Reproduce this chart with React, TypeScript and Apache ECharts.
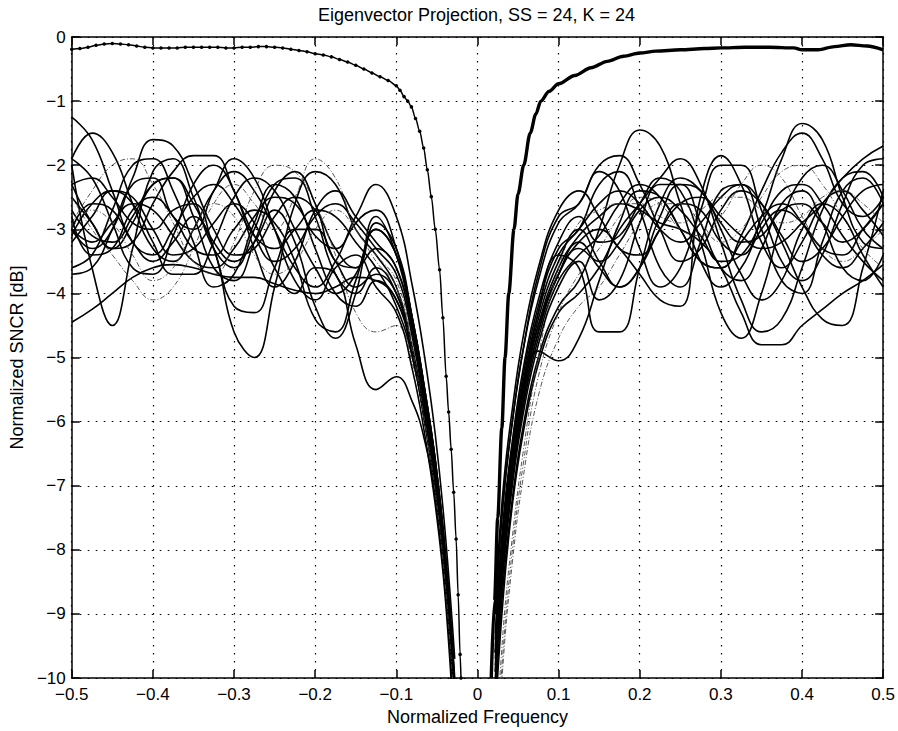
import React, { useEffect, useRef } from 'react';
import * as echarts from 'echarts';

const TITLE = 'Eigenvector Projection, SS = 24, K = 24';
const X_NAME = 'Normalized Frequency';
const Y_NAME = 'Normalized SNCR [dB]';
const FONT = '"Liberation Sans", Arial, Helvetica, sans-serif';

// x positions for the left-hand family (wiggle part then plunge toward the null)
const LEFT_X = [-0.5, -0.475, -0.45, -0.425, -0.4, -0.375, -0.35, -0.325, -0.3, -0.275, -0.25, -0.225, -0.2, -0.175, -0.15, -0.125,
  -0.1, -0.08, -0.065, -0.052, -0.04, -0.028];
// x positions for the right-hand family (plunge from the null then wiggle part)
const RIGHT_X = [0.022, 0.032, 0.043, 0.056, 0.075, 0.1,
  0.125, 0.15, 0.175, 0.2, 0.225, 0.25, 0.275, 0.3, 0.325, 0.35, 0.375, 0.4, 0.425, 0.45, 0.475, 0.5];

const LEFT_CURVES = [
  [-1.25, -1.6, -2.4, -3.2, -3.4, -3.0, -2.5, -2.3, -2.6, -3.1, -3.3, -3.0, -2.7, -2.8, -3.2, -3.6, -4.2, -5.0, -6.0, -7.0, -8.5, -10.8],
  [-1.9, -1.5, -1.8, -2.6, -3.3, -3.5, -3.0, -2.4, -2.1, -2.4, -3.0, -3.6, -3.9, -3.5, -2.9, -2.7, -3.3, -4.4, -5.5, -6.6, -8.0, -10.1],
  [-2.0, -3.6, -4.5, -3.3, -2.1, -1.9, -2.5, -3.3, -3.6, -3.0, -2.3, -2.2, -2.8, -3.7, -4.0, -3.6, -4.0, -4.9, -5.9, -7.0, -8.4, -10.6],
  [-4.45, -4.25, -4.0, -3.75, -3.6, -3.55, -3.6, -3.7, -3.75, -3.75, -3.85, -3.95, -4.0, -3.9, -3.75, -3.8, -4.1, -4.9, -5.9, -6.9, -8.3, -10.4],
  [-3.0, -3.3, -3.0, -2.2, -1.6, -1.7, -2.3, -3.0, -3.4, -3.3, -2.8, -2.5, -2.7, -3.3, -3.6, -3.3, -3.6, -4.6, -5.7, -6.8, -8.2, -10.3],
  [-3.0, -2.6, -2.7, -3.2, -3.5, -3.2, -2.8, -3.3, -4.6, -5.0, -3.9, -2.6, -2.1, -2.3, -3.0, -3.4, -3.9, -4.9, -6.0, -7.1, -8.5, -10.8],
  [-2.5, -2.9, -3.3, -3.2, -2.6, -2.1, -1.85, -1.85, -2.4, -3.1, -3.5, -3.3, -2.8, -2.6, -2.9, -3.3, -3.7, -4.7, -5.8, -6.9, -8.3, -10.4],
  [-3.2, -2.8, -2.4, -2.5, -3.0, -3.4, -3.3, -2.9, -2.6, -2.9, -3.6, -4.0, -3.6, -3.7, -4.8, -5.5, -5.3, -5.7, -6.3, -7.2, -8.6, -10.6],
  [-2.7, -3.1, -3.2, -2.8, -2.3, -2.2, -2.6, -3.2, -3.5, -3.2, -2.7, -3.2, -4.2, -4.7, -4.0, -2.8, -3.4, -4.5, -5.6, -6.7, -8.1, -10.2],
  [-3.0, -3.2, -2.9, -2.6, -2.7, -3.1, -3.5, -3.6, -3.3, -2.8, -2.5, -2.6, -3.1, -3.3, -2.8, -2.3, -2.8, -3.9, -5.0, -6.2, -7.7, -9.7],
  [-2.5, -3.0, -3.4, -3.8, -4.1, -3.9, -3.3, -2.6, -2.3, -2.6, -3.0, -2.5, -1.9, -2.2, -3.0, -3.4, -3.8, -4.8, -5.9, -7.0, -8.4, -10.4],
  [-2.9, -2.4, -2.0, -1.9, -2.3, -2.9, -3.5, -3.7, -3.2, -2.4, -2.0, -2.1, -2.6, -3.4, -4.3, -4.6, -4.5, -5.1, -6.0, -7.1, -8.5, -10.6],
  [-3.6, -3.4, -2.7, -2.0, -1.9, -2.4, -3.2, -3.9, -3.7, -2.9, -2.3, -2.5, -3.3, -4.0, -4.2, -3.8, -4.1, -5.0, -6.0, -7.1, -8.5, -10.6],
  [-2.3, -2.2, -2.5, -2.9, -3.0, -2.7, -2.6, -3.3, -4.2, -4.3, -3.6, -3.0, -3.0, -3.5, -3.9, -3.7, -4.0, -4.9, -5.9, -7.0, -8.4, -10.4],
  [-2.3, -2.9, -3.3, -2.9, -2.3, -2.2, -2.8, -3.6, -3.8, -3.2, -2.4, -2.1, -2.6, -3.5, -3.6, -2.9, -3.3, -4.4, -5.5, -6.6, -8.0, -10.0],
  [-3.7, -3.6, -3.0, -2.3, -2.2, -2.8, -3.0, -2.4, -1.9, -2.2, -3.0, -3.8, -4.1, -3.6, -3.4, -3.9, -4.3, -5.2, -6.2, -7.3, -8.7, -11.0],
  [-1.9, -2.2, -2.9, -3.6, -3.7, -3.1, -2.3, -2.0, -2.4, -3.3, -3.9, -3.5, -2.7, -2.4, -2.8, -3.2, -3.6, -4.6, -5.7, -6.8, -8.2, -10.3],
  [-3.1, -2.6, -2.4, -2.6, -3.2, -3.7, -3.7, -3.2, -2.5, -2.2, -2.4, -3.0, -3.6, -4.0, -3.7, -3.0, -3.4, -4.4, -5.5, -6.6, -8.0, -10.1],
  [-3.0, -2.7, -2.9, -3.4, -3.8, -3.6, -3.0, -2.6, -2.8, -3.4, -3.7, -3.5, -3.0, -2.7, -3.0, -3.5, -3.9, -4.9, -6.0, -7.1, -8.5, -10.5],
  [-2.8, -3.4, -3.3, -2.7, -2.5, -2.8, -3.3, -3.4, -3.0, -2.7, -2.9, -3.5, -4.4, -4.6, -3.8, -3.0, -3.4, -4.5, -5.6, -6.7, -8.1, -10.2],
];

const RIGHT_CURVES = [
  [-9.8, -8.0, -6.8, -5.7, -4.6, -3.7, -3.2, -3.6, -3.9, -3.6, -3.0, -2.6, -2.7, -3.2, -3.4, -2.8, -1.9, -1.35, -1.6, -2.5, -3.2, -3.3],
  [-10.4, -8.5, -7.2, -6.1, -5.0, -4.2, -3.8, -3.0, -2.0, -1.45, -1.7, -2.6, -3.5, -3.9, -3.6, -3.0, -2.7, -2.9, -3.3, -3.4, -3.0, -2.6],
  [-9.6, -7.8, -6.6, -5.5, -4.5, -3.7, -3.2, -3.0, -3.3, -3.7, -4.1, -4.2, -2.5, -1.85, -2.3, -3.2, -3.6, -3.2, -2.6, -2.4, -2.7, -3.1],
  [-9.0, -7.2, -6.0, -4.9, -3.8, -2.9, -2.6, -2.0, -1.85, -2.3, -3.0, -3.5, -3.3, -2.7, -2.4, -2.6, -3.1, -3.5, -3.3, -2.8, -2.4, -2.3],
  [-10.6, -8.7, -7.3, -6.2, -5.1, -4.3, -4.0, -3.6, -3.0, -2.6, -2.2, -1.9, -2.3, -3.2, -4.1, -4.6, -4.4, -3.6, -2.7, -2.2, -2.1, -2.5],
  [-9.3, -7.5, -6.3, -5.2, -4.1, -3.2, -2.8, -3.2, -3.1, -2.6, -2.2, -2.4, -3.2, -4.3, -4.7, -4.0, -2.9, -2.2, -2.0, -2.4, -3.0, -3.3],
  [-9.5, -7.7, -6.5, -5.4, -4.3, -3.4, -3.0, -2.6, -2.4, -2.6, -3.0, -3.2, -2.9, -2.5, -2.3, -2.6, -3.2, -3.9, -4.4, -4.5, -3.6, -2.4],
  [-9.9, -8.0, -6.7, -5.5, -4.3, -3.4, -3.6, -4.6, -4.6, -3.6, -2.6, -2.2, -2.4, -2.9, -3.2, -3.1, -2.7, -2.6, -2.9, -3.2, -3.0, -2.6],
  [-9.6, -7.8, -6.5, -5.5, -4.9, -5.05, -4.7, -3.8, -2.9, -2.4, -2.5, -3.0, -3.5, -3.6, -3.2, -2.8, -2.6, -2.9, -3.4, -3.6, -3.3, -2.9],
  [-9.7, -7.9, -6.7, -5.6, -4.5, -3.6, -3.1, -2.8, -2.6, -2.7, -2.9, -3.0, -3.2, -3.6, -4.3, -4.8, -4.8, -4.5, -4.25, -4.0, -3.8, -3.55],
  [-10.0, -8.2, -6.9, -5.8, -4.7, -3.8, -3.4, -3.1, -2.6, -2.3, -2.5, -3.0, -3.5, -3.6, -3.1, -2.4, -1.8, -1.5, -1.9, -2.6, -2.8, -2.5],
  [-8.8, -7.0, -5.8, -4.7, -3.6, -2.7, -2.4, -2.8, -3.3, -3.4, -3.0, -2.6, -2.5, -2.8, -3.1, -3.3, -3.2, -2.9, -2.6, -2.2, -1.9, -1.7],
  [-9.4, -7.6, -6.4, -5.3, -4.2, -3.3, -3.0, -2.3, -2.1, -2.7, -3.6, -3.9, -3.2, -2.4, -2.3, -3.0, -3.8, -4.0, -3.2, -2.4, -2.2, -2.6],
  [-9.9, -8.1, -6.8, -5.7, -4.6, -3.7, -3.3, -3.5, -3.2, -2.7, -2.5, -2.7, -3.1, -3.5, -3.4, -2.9, -2.4, -2.3, -2.6, -3.1, -3.5, -3.8],
  [-11.2, -9.2, -7.8, -6.5, -5.0, -3.6, -2.9, -2.7, -2.6, -2.6, -2.8, -2.9, -2.7, -2.5, -2.5, -2.7, -2.9, -2.8, -2.5, -2.4, -2.6, -2.9],
  [-11.5, -9.5, -8.0, -6.7, -5.3, -4.3, -3.7, -3.3, -2.8, -2.5, -2.6, -3.0, -3.1, -2.8, -2.3, -2.0, -2.2, -2.8, -3.3, -3.5, -3.3, -3.0],
  [-9.0, -7.2, -6.0, -4.9, -3.7, -2.8, -2.6, -2.1, -2.4, -3.3, -3.9, -3.6, -2.7, -2.0, -2.0, -2.7, -3.5, -3.8, -3.4, -2.6, -2.0, -1.9],
  [-10.1, -8.3, -7.0, -5.9, -4.8, -3.9, -3.5, -4.1, -3.8, -2.9, -2.3, -2.3, -2.9, -3.6, -3.8, -3.3, -2.6, -2.4, -2.9, -3.6, -3.8, -3.4],
  [-11.8, -9.7, -8.2, -6.9, -5.6, -4.7, -4.2, -3.9, -3.4, -2.9, -2.6, -2.6, -2.9, -3.2, -3.0, -2.5, -2.1, -2.0, -2.3, -2.8, -3.3, -3.6],
  [-9.6, -7.8, -6.6, -5.5, -4.4, -3.5, -3.0, -3.5, -3.9, -3.6, -2.8, -2.3, -2.4, -3.0, -3.7, -4.1, -3.8, -3.0, -2.6, -2.8, -3.4, -3.9],
];

// indices of the curves printed as thin broken grey lines
const THIN_LEFT = [10, 11, 18];
const THIN_RIGHT = [14, 15, 18];

// dotted-marker reference curve (left half)
const MARKER_X = [-0.5, -0.49, -0.48, -0.47, -0.46, -0.45, -0.44, -0.43, -0.42, -0.41, -0.4, -0.39, -0.38, -0.37, -0.36, -0.35,
  -0.34, -0.33, -0.32, -0.31, -0.3, -0.29, -0.28, -0.27, -0.26, -0.25, -0.24, -0.23, -0.22, -0.21, -0.2, -0.19, -0.18, -0.17,
  -0.16, -0.15, -0.14, -0.13, -0.12, -0.11, -0.1, -0.0955, -0.0905, -0.086, -0.0814, -0.0763, -0.0712, -0.0663, -0.0618,
  -0.0569, -0.052, -0.0467, -0.0426, -0.0386, -0.0355, -0.0324, -0.0293, -0.0263, -0.0238, -0.0214, -0.0203];
const MARKER_Y = [-0.19, -0.18, -0.16, -0.13, -0.11, -0.1, -0.11, -0.12, -0.14, -0.16, -0.17, -0.17, -0.17, -0.17, -0.16, -0.16,
  -0.16, -0.16, -0.16, -0.17, -0.17, -0.16, -0.16, -0.15, -0.15, -0.16, -0.17, -0.19, -0.21, -0.23, -0.26, -0.28, -0.31, -0.35,
  -0.39, -0.44, -0.5, -0.56, -0.62, -0.68, -0.76, -0.83, -0.93, -1.0, -1.09, -1.27, -1.47, -1.73, -2.07,
  -2.49, -3.0, -3.63, -4.38, -5.29, -5.85, -6.43, -7.1, -7.83, -8.7, -9.63, -10.0];

// heavy reference curve (right half)
const THICK_X = [0.017, 0.021, 0.025, 0.03, 0.034, 0.0386, 0.045, 0.05, 0.057, 0.065, 0.072, 0.078, 0.088, 0.1, 0.12, 0.14,
  0.16, 0.18, 0.2, 0.22, 0.25, 0.28, 0.3, 0.33, 0.36, 0.39, 0.4, 0.42, 0.44, 0.46, 0.48, 0.5];
const THICK_Y = [-10.0, -8.8, -7.5, -6.1, -5.0, -4.0, -3.0, -2.45, -2.0, -1.5, -1.2, -1.0, -0.85, -0.73, -0.6, -0.48,
  -0.38, -0.3, -0.25, -0.22, -0.2, -0.18, -0.17, -0.16, -0.16, -0.17, -0.2, -0.2, -0.15, -0.12, -0.14, -0.2];

const X_MIN = -0.5, X_MAX = 0.5, X_STEP = 0.1;
const Y_MIN = -10, Y_MAX = 0, Y_STEP = 1;

const fmt = (v: number, d: number) => {
  if (Math.abs(v) < 1e-9) return '0';
  return (v < 0 ? '\u2212' : '') + Math.abs(v).toFixed(d);
};

export default function App() {
  const ref = useRef<HTMLDivElement>(null);
  useEffect(() => {
    if (!ref.current) return;
    const chart = echarts.init(ref.current, undefined, { renderer: 'svg' });
    const black = '#000';
    const grid = { left: 68, top: 37, width: 817, height: 642 };
    const dotted = { color: black, type: [1.6, 6.4] as any, width: 1.2 };
    const lineBase = {
      type: 'line' as const, showSymbol: false, smooth: 0.45,
      silent: true, clip: true, animation: false, z: 3,
    };
    const series: any[] = [];
    LEFT_CURVES.forEach((ys, i) => {
      const thin = THIN_LEFT.includes(i);
      series.push({
        ...lineBase,
        data: LEFT_X.map((x, k) => [x, ys[k]]),
        lineStyle: thin ? { color: '#444', width: 0.9, type: [5, 2, 1, 2] } : { color: black, width: 1.6 },
      });
    });
    RIGHT_CURVES.forEach((ys, i) => {
      const thin = THIN_RIGHT.includes(i);
      series.push({
        ...lineBase,
        data: RIGHT_X.map((x, k) => [x, ys[k]]),
        lineStyle: thin ? { color: '#444', width: 0.9, type: [5, 2, 1, 2] } : { color: black, width: 1.6 },
      });
    });
    series.push({
      type: 'line', silent: true, clip: true, z: 4, smooth: 0.3, smoothMonotone: 'x',
      data: MARKER_X.map((x, k) => [x, MARKER_Y[k]]),
      showSymbol: true, symbol: 'circle', symbolSize: 3.5,
      itemStyle: { color: black }, lineStyle: { color: black, width: 1.5 },
    });
    series.push({
      type: 'line', silent: true, clip: true, z: 4, smooth: 0.3, smoothMonotone: 'x', showSymbol: false,
      data: THICK_X.map((x, k) => [x, THICK_Y[k]]),
      lineStyle: { color: black, width: 3.4 },
    });

    chart.setOption({
      animation: false,
      backgroundColor: '#fff',
      grid: { ...grid, containLabel: false },
      graphic: [{
        type: 'text', x: 476.5, y: 6, z: 10,
        style: {
          text: TITLE, fill: black, font: `18px ${FONT}`,
          textAlign: 'center', align: 'center', textVerticalAlign: 'top', verticalAlign: 'top',
        },
      }],
      xAxis: [
        {
          type: 'value', min: X_MIN, max: X_MAX, interval: X_STEP, position: 'bottom',
          axisLine: { show: true, onZero: false, lineStyle: { color: black, width: 1.5 } },
          axisTick: { show: true, inside: true, length: 8, lineStyle: { color: black, width: 1.5 } },
          axisLabel: { color: black, fontSize: 17, fontFamily: FONT, margin: 8, formatter: (v: number) => fmt(v, 1) },
          splitLine: { show: true, lineStyle: dotted },
          name: X_NAME, nameLocation: 'middle', nameGap: 28,
          nameTextStyle: { color: black, fontSize: 18, fontFamily: FONT },
        },
        {
          type: 'value', min: X_MIN, max: X_MAX, interval: X_STEP, position: 'top',
          axisLine: { show: true, onZero: false, lineStyle: { color: black, width: 1.5 } },
          axisTick: { show: true, inside: true, length: 8, lineStyle: { color: black, width: 1.5 } },
          axisLabel: { show: false }, splitLine: { show: false },
        },
      ],
      yAxis: [
        {
          type: 'value', min: Y_MIN, max: Y_MAX, interval: Y_STEP, position: 'left',
          axisLine: { show: true, onZero: false, lineStyle: { color: black, width: 1.5 } },
          axisTick: { show: true, inside: true, length: 8, lineStyle: { color: black, width: 1.5 } },
          axisLabel: { color: black, fontSize: 17, fontFamily: FONT, margin: 6, formatter: (v: number) => fmt(v, 0) },
          splitLine: { show: true, lineStyle: dotted },
          name: Y_NAME, nameLocation: 'middle', nameGap: 40,
          nameTextStyle: { color: black, fontSize: 18, fontFamily: FONT },
        },
        {
          type: 'value', min: Y_MIN, max: Y_MAX, interval: Y_STEP, position: 'right',
          axisLine: { show: true, onZero: false, lineStyle: { color: black, width: 1.5 } },
          axisTick: { show: true, inside: true, length: 8, lineStyle: { color: black, width: 1.5 } },
          axisLabel: { show: false }, splitLine: { show: false },
        },
      ],
      series,
    });
    return () => chart.dispose();
  }, []);
  return (
    <div
      ref={ref}
      style={{ position: 'fixed', left: 0, top: 0, width: 898, height: 731, background: '#fff' }}
    />
  );
}
